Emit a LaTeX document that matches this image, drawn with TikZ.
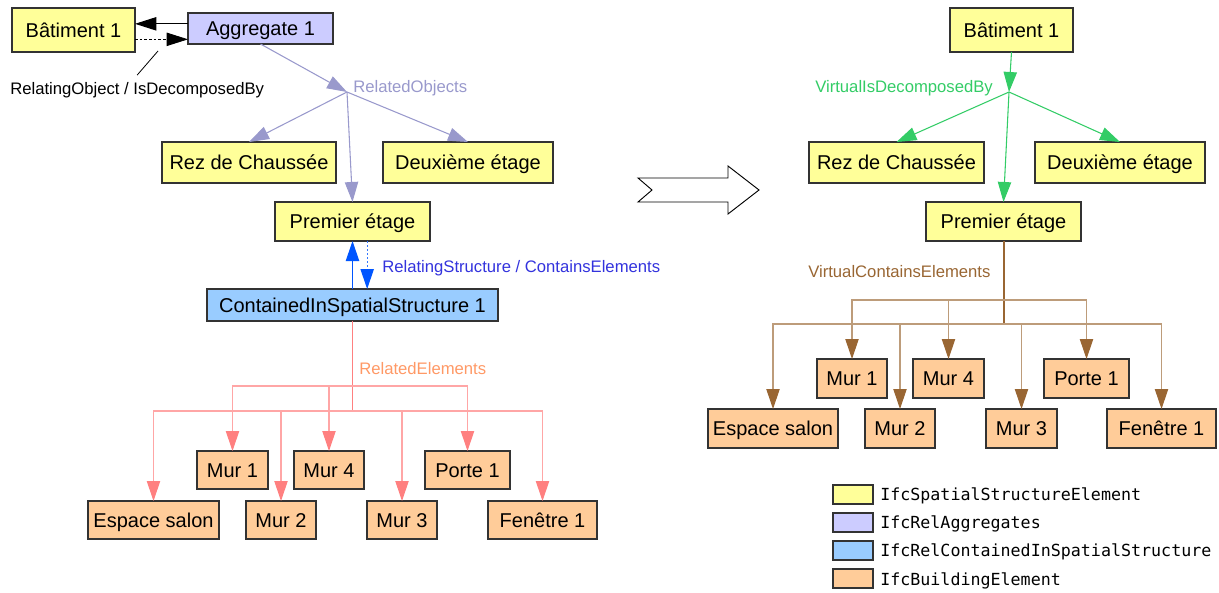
\documentclass[tikz,border=0pt]{standalone}
\usepackage{fontspec}
\setmainfont{Liberation Sans}
\setmonofont{DejaVu Sans Mono}
\usetikzlibrary{arrows.meta}
\definecolor{spat}{HTML}{FFFF99}
\definecolor{aggc}{HTML}{CCCCFF}
\definecolor{cisc}{HTML}{99CCFF}
\definecolor{elc}{HTML}{FFCC99}
\definecolor{edgec}{HTML}{333333}
\definecolor{lav}{HTML}{9999CC}
\definecolor{blu}{HTML}{0055FF}
\definecolor{bludot}{HTML}{3377FF}
\definecolor{blulab}{HTML}{3333DD}
\definecolor{redl}{HTML}{FF8080}
\definecolor{orl}{HTML}{FF9966}
\definecolor{grn}{HTML}{33CC66}
\definecolor{brn}{HTML}{996633}
\newcommand\ifcbox[7]{\node[#6, minimum width={(#4-#2)*0.75pt}, minimum height={(#5-#3)*0.75pt}] (#1) at ({(#2+#4)/2},{(#3+#5)/2}) {#7};}
\begin{document}
\begin{tikzpicture}[x=0.75pt,y=-0.75pt,
  box/.style={draw=edgec,line width=1pt,inner sep=0pt,outer sep=0pt,font=\fontsize{15}{18}\selectfont,text height=10.7pt,text depth=0pt},
  sp/.style={box,fill=spat},
  ag/.style={box,fill=aggc},
  ci/.style={box,fill=cisc},
  el/.style={box,fill=elc},
  lab/.style={font=\fontsize{12.5}{15}\selectfont,inner sep=0pt,anchor=west,text height=9pt,text depth=0pt},
  leg/.style={font=\ttfamily\fontsize{12.5}{15}\selectfont,inner sep=0pt,anchor=west,text height=9pt,text depth=0pt},
  ar/.style={-{Triangle[length=15pt,width=10pt]}},
  lavline/.style={ar,draw=lav,line width=0.8pt},
  grnline/.style={ar,draw=grn,line width=0.8pt},
  redline/.style={-{Triangle[length=15pt,width=10pt,color=redl]},draw=redl!70!white,line width=0.8pt},
  brnline/.style={-{Triangle[length=15pt,width=10pt,color=brn]},draw=brn!65!white,line width=0.8pt},
]
\useasboundingbox (0,0) rectangle (1219,592);

% ---------------- left side ----------------
\ifcbox{bat}{12}{8}{135}{52}{sp}{Bâtiment 1}
\ifcbox{agg}{188}{13}{333}{44}{ag}{Aggregate 1}
\ifcbox{rez}{162}{142}{336}{183}{sp}{Rez de Chaussée}
\ifcbox{deux}{383}{142}{553}{183}{sp}{Deuxième étage}
\ifcbox{prem}{275}{202}{430}{241}{sp}{Premier étage}
\ifcbox{cis}{207}{289}{498}{321}{ci}{ContainedInSpatialStructure 1}
\ifcbox{mura}{197}{451}{268}{489}{el}{Mur 1}
\ifcbox{murd}{294}{451}{364}{489}{el}{Mur 4}
\ifcbox{porte}{425}{451}{510}{489}{el}{Porte 1}
\ifcbox{esp}{88}{501}{219}{539}{el}{Espace salon}
\ifcbox{murb}{246}{501}{316}{539}{el}{Mur 2}
\ifcbox{murc}{367}{501}{437}{539}{el}{Mur 3}
\ifcbox{fen}{488}{501}{597}{539}{el}{Fenêtre 1}

% aggregation relation
\draw[-{Triangle[length=16pt,width=10pt]},line width=0.8pt] ([yshift=3.5pt]agg.west) -- ([yshift=3.5pt]agg.west -| bat.east);
\draw[-{Triangle[length=16pt,width=10pt]},line width=0.6pt,dash pattern=on 2pt off 1.5pt] ([yshift=-7pt]bat.east) -- ([yshift=-7pt]bat.east -| agg.west);
\node[lab,text=black] (rolab) at (10,88) {RelatingObject / IsDecomposedBy};
\coordinate (ptr) at (158,51);
\draw[line width=0.6pt] ([yshift=5pt]rolab.north) -- (ptr);

\coordinate (ro) at (347,92);
\draw[lavline] (agg.south) -- (ro);
\node[lab,text=lav] (rolabel) at (353,87) {RelatedObjects};
\draw[lavline] (ro) -- (rez.north);
\draw[lavline] (ro) -- (deux.north);
\draw[lavline] (ro) -- (prem.north);

% containment relation
\draw[ar,draw=blu,line width=0.9pt] (cis.north) -- (prem.south);
\draw[-{Triangle[length=15pt,width=10pt,color=blu]},draw=bludot,line width=0.9pt,dash pattern=on 1.5pt off 1.5pt] ([xshift=11pt]prem.south) -- ([xshift=11pt]cis.north);
\node[lab,text=blulab] (rslab) at (382,266) {RelatingStructure / ContainsElements};

\coordinate (reU) at (352.5,386);
\coordinate (reL) at (352.5,411);
\draw[draw=redl,line width=1.2pt] (cis.south) -- (reL);
\node[lab,text=orl] (relab) at (359,368) {RelatedElements};
\draw[redline] (reU) -| (mura.north);
\draw[redline] (reU) -| (murd.north);
\draw[redline] (reU) -| (porte.north);
\draw[redline] (reL) -| (esp.north);
\draw[redline] (reL) -| (murb.north);
\draw[redline] (reL) -| (murc.north);
\draw[redline] (reL) -| (fen.north);

% ---------------- big arrow ----------------
\draw[line width=0.7pt,fill=white] (638,178) -- (728,178) -- (728,166) -- (759,190) -- (728,214) -- (728,202) -- (638,202) -- (652,190) -- cycle;

% ---------------- right side ----------------
\ifcbox{batr}{950}{8}{1073}{52}{sp}{Bâtiment 1}
\ifcbox{rezr}{809}{142}{984}{183}{sp}{Rez de Chaussée}
\ifcbox{deuxr}{1035}{142}{1205}{183}{sp}{Deuxième étage}
\ifcbox{premr}{926}{202}{1081}{241}{sp}{Premier étage}
\ifcbox{murar}{817}{359}{887}{398}{el}{Mur 1}
\ifcbox{murdr}{913}{359}{984}{398}{el}{Mur 4}
\ifcbox{porter}{1044}{359}{1129}{398}{el}{Porte 1}
\ifcbox{espr}{708}{409}{838}{448}{el}{Espace salon}
\ifcbox{murbr}{865}{409}{935}{448}{el}{Mur 2}
\ifcbox{murcr}{986}{409}{1057}{448}{el}{Mur 3}
\ifcbox{fenr}{1107}{409}{1216}{448}{el}{Fenêtre 1}

\coordinate (vd) at (1009,92);
\draw[grnline] (batr.south) -- (vd);
\node[lab,text=grn] (vdlab) at (815,87) {VirtualIsDecomposedBy};
\draw[grnline] (vd) -- (rezr.north);
\draw[grnline] (vd) -- (deuxr.north);
\draw[grnline] (vd) -- (premr.north);

\coordinate (vcU) at (1003.5,300);
\coordinate (vcL) at (1003.5,324);
\draw[draw=brn,line width=1.5pt] (premr.south) -- (vcL);
\node[lab,text=brn] (vclab) at (808,271) {VirtualContainsElements};
\draw[brnline] (vcU) -| (murar.north);
\draw[brnline] (vcU) -| (murdr.north);
\draw[brnline] (vcU) -| (porter.north);
\draw[brnline] (vcL) -| (espr.north);
\draw[brnline] (vcL) -| (murbr.north);
\draw[brnline] (vcL) -| (murcr.north);
\draw[brnline] (vcL) -| (fenr.north);

% ---------------- legend ----------------
\ifcbox{lga}{833}{485}{873}{504}{sp}{}
\ifcbox{lgb}{833}{513}{873}{532}{ag}{}
\ifcbox{lgc}{833}{541}{873}{560}{ci}{}
\ifcbox{lgd}{833}{569}{873}{588}{el}{}
\node[leg] (lta) at (880,494) {IfcSpatialStructureElement};
\node[leg] (ltb) at (880,522) {IfcRelAggregates};
\node[leg] (ltc) at (880,550) {IfcRelContainedInSpatialStructure};
\node[leg] (ltd) at (880,579) {IfcBuildingElement};
\end{tikzpicture}
\end{document}
